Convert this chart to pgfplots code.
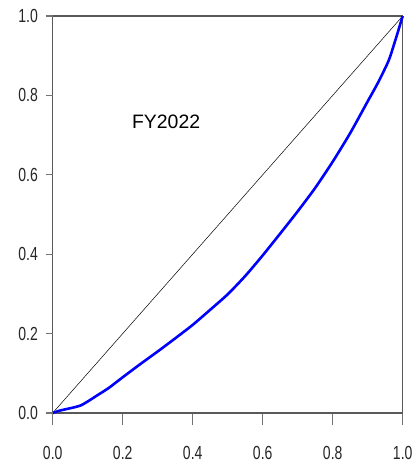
\documentclass[border=0pt]{standalone}
\usepackage{pgfplots}
\pgfplotsset{compat=1.18}
\usepackage{fontspec}
\setmainfont{Liberation Sans}
\begin{document}
\begin{tikzpicture}
\pgfplotsset{common/.style={
  scale only axis, width=350bp, height=397bp,
  xmin=0, xmax=1, ymin=0, ymax=1,
  tick align=outside,
  tick style={black!55, line width=1.2bp},
  tick label style={font=\fontsize{19}{20}\selectfont, xscale=0.74, text=black!85},
}}
\begin{axis}[
  name=ax, common,
  axis line style={black!65, line width=1.2bp},
  xtick={0,0.2,0.4,0.6,0.8,1},
  xticklabels={0.0,0.2,0.4,0.6,0.8,1.0},
  ytick=\empty,
  xtick pos=bottom,
  major tick length=12bp,
  xticklabel style={yshift=-18bp},
  clip=false,
]
\addplot[black, line width=0.5bp] coordinates {(0,0) (1,1)};
\addplot[blue, line width=2.6bp, smooth, tension=0.4] coordinates {
(0,0) (0.02,0.006) (0.04,0.010) (0.06,0.014) (0.08,0.019) (0.10,0.029)
(0.13,0.046) (0.16,0.063) (0.20,0.090) (0.25,0.123) (0.30,0.155)
(0.35,0.188) (0.40,0.222) (0.45,0.260) (0.50,0.299) (0.55,0.345)
(0.60,0.397) (0.65,0.452) (0.70,0.508) (0.75,0.567) (0.80,0.633)
(0.85,0.705) (0.90,0.785) (0.93,0.833) (0.96,0.888) (0.98,0.942) (1.0,1.0)};
\node[font=\fontsize{19.5}{22}\selectfont] at (axis cs:0.324,0.733) {FY2022};
\end{axis}
\begin{axis}[
  common,
  axis line style={draw=none},
  xtick=\empty,
  ytick={0,0.2,0.4,0.6,0.8,1},
  yticklabels={0.0,0.2,0.4,0.6,0.8,1.0},
  ytick pos=left,
  major tick length=7bp,
  yticklabel style={xshift=-7bp},
]
\addplot[draw=none] coordinates {(0,0) (1,1)};
\end{axis}
\pgfresetboundingbox
\useasboundingbox ([xshift=-52.7bp,yshift=-54bp]ax.south west) rectangle ([xshift=13.3bp,yshift=16bp]ax.north east);
\end{tikzpicture}
\end{document}
